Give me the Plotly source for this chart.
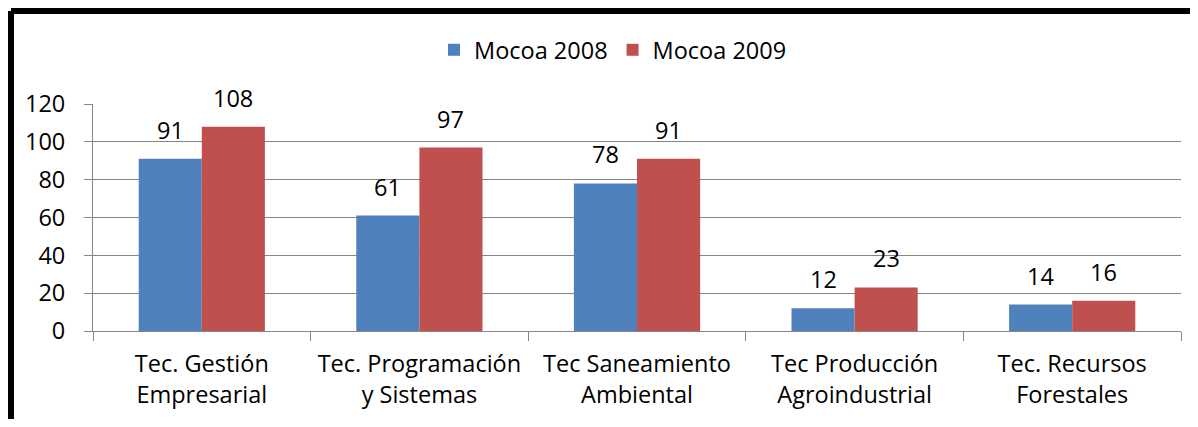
import plotly.graph_objects as go

categories = ["Tec. Gestión<br>Empresarial", "Tec. Programación<br>y Sistemas",
              "Tec Saneamiento<br>Ambiental", "Tec Producción<br>Agroindustrial",
              "Tec. Recursos<br>Forestales"]
mocoa_2008 = [91, 61, 78, 12, 14]
mocoa_2009 = [108, 97, 91, 23, 16]
y_ticks = [0, 20, 40, 60, 80, 100, 120]

FONT = "Open Sans"
FS = 23.5

# page body has an 8px margin, so the figure is 16px smaller than the window
W, H = 1182, 411
L, R, T, B = 85, 9, 96, 88
pw = W - L - R
ph = H - T - B
BARGAP = 0.42
bar_px = pw / len(categories) * (1 - BARGAP) / 2

fig = go.Figure()
fig.add_trace(go.Bar(name="Mocoa 2008", x=categories, y=mocoa_2008,
                     marker=dict(color="#4F81BD", line=dict(width=0))))
fig.add_trace(go.Bar(name="Mocoa 2009", x=categories, y=mocoa_2009,
                     marker=dict(color="#C0504D", line=dict(width=0))))

for vals, shift in ((mocoa_2008, -bar_px / 2), (mocoa_2009, bar_px / 2)):
    for c, v in zip(categories, vals):
        fig.add_annotation(x=c, y=v, xref="x", yref="y", text=str(v),
                           showarrow=False, xanchor="center", yanchor="bottom",
                           xshift=shift, yshift=11,
                           font=dict(family=FONT, size=FS, color="#000"))

fig.update_layout(
    width=W, height=H,
    margin=dict(l=L, r=R, t=T, b=B),
    paper_bgcolor="white", plot_bgcolor="white",
    barmode="group", bargap=BARGAP, bargroupgap=0,
    font=dict(family=FONT, size=FS, color="#000"),
    showlegend=True,
    legend=dict(orientation="h", x=0.5 - 24 / pw, xanchor="center", y=1 + (T - 42) / ph,
                yanchor="middle", font=dict(family=FONT, size=FS),
                itemwidth=30, tracegroupgap=0),
    xaxis=dict(type="category", showline=True, linecolor="#868686", linewidth=1,
               ticks="outside", tickson="boundaries", ticklen=9, tickcolor="#868686",
               showgrid=False, ticklabelstandoff=12, tickfont=dict(family=FONT, size=FS)),
    yaxis=dict(range=[0, 120], tickvals=y_ticks, showline=True, linecolor="#868686",
               linewidth=1, ticks="outside", ticklen=8, tickcolor="#868686",
               showgrid=True, gridcolor="#868686", gridwidth=1, zeroline=False,
               ticklabelstandoff=14, tickfont=dict(family=FONT, size=FS)),
)

# outer black frame (left and top edges visible)
x_left = (3 - L) / pw
y_top = 1 + (T - 3) / ph
fig.add_shape(type="line", xref="paper", yref="paper", x0=x_left, x1=x_left,
              y0=y_top, y1=-1, line=dict(color="black", width=6))
fig.add_shape(type="line", xref="paper", yref="paper", x0=x_left, x1=1.2,
              y0=y_top, y1=y_top, line=dict(color="black", width=6))

fig.write_html("out.html")
